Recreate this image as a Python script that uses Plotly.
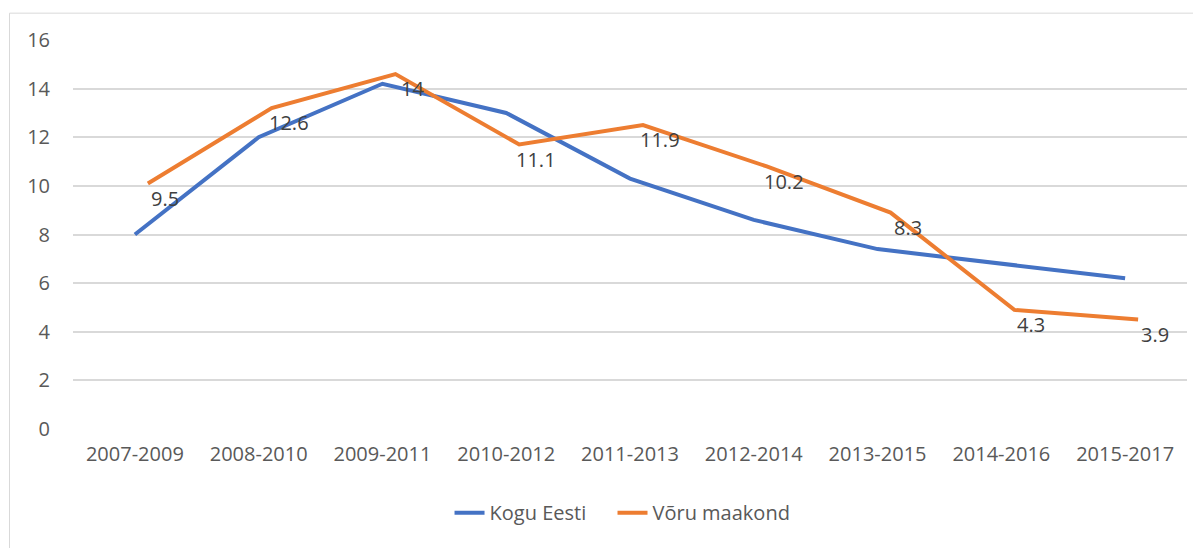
import plotly.graph_objects as go

categories = ["2007-2009", "2008-2010", "2009-2011", "2010-2012", "2011-2013",
              "2012-2014", "2013-2015", "2014-2016", "2015-2017"]
kogu_eesti = [8.0, 12.0, 14.2, 13.0, 10.3, 8.6, 7.4, 6.8, 6.2]
voru_maakond = [9.5, 12.6, 14.0, 11.1, 11.9, 10.2, 8.3, 4.3, 3.9]
y_ticks = [0, 2, 4, 6, 8, 10, 12, 14, 16]

idx = list(range(len(categories)))
FONT = "Open Sans"
GRAY = "#595959"

fig = go.Figure()
fig.add_trace(go.Scatter(x=idx, y=kogu_eesti, mode="lines", name="Kogu Eesti",
                         line=dict(color="#4472C4", width=4), xaxis="x", yaxis="y",
                         legend="legend"))
fig.add_trace(go.Scatter(x=idx, y=voru_maakond, mode="lines", name="Võru maakond",
                         line=dict(color="#ED7D31", width=4), xaxis="x2", yaxis="y2",
                         legend="legend2"))

annotations = []
for i, v in zip(idx, voru_maakond):
    annotations.append(dict(x=i, y=v, xref="x", yref="y", text=f"{v:g}", showarrow=False,
                            xshift=30, font=dict(family=FONT, size=20, color="#404040")))

legend_style = dict(orientation="h", xanchor="left", y=-0.215, yanchor="middle",
                    font=dict(family=FONT, size=20, color=GRAY), itemwidth=30,
                    bgcolor="rgba(0,0,0,0)")

fig.update_layout(
    width=1201, height=548,
    margin=dict(l=65, r=22, t=32, b=127),
    paper_bgcolor="white", plot_bgcolor="white",
    font=dict(family=FONT, size=20, color=GRAY),
    xaxis=dict(range=[-0.5, 8.5], tickvals=idx, ticktext=categories, showgrid=False,
               zeroline=False, showline=False, ticks="", ticklabelstandoff=11,
               tickfont=dict(family=FONT, size=20, color=GRAY)),
    yaxis=dict(range=[0, 16], tickvals=y_ticks, showgrid=True, gridcolor="#D9D9D9",
               gridwidth=1.5, zeroline=False, showline=False, ticks="", ticklabelstandoff=22,
               tickfont=dict(family=FONT, size=20, color=GRAY)),
    xaxis2=dict(range=[-0.605, 8.395], overlaying="x", visible=False),
    yaxis2=dict(range=[-0.6, 15.4], overlaying="y", visible=False),
    showlegend=True,
    legend=dict(x=0.338, **legend_style),
    legend2=dict(x=0.4843, **legend_style),
    annotations=annotations,
    shapes=[dict(type="rect", xref="paper", yref="paper", x0=-0.057, x1=1.2, y0=-0.5, y1=1.069,
                 line=dict(color="#D9D9D9", width=1), fillcolor="rgba(0,0,0,0)", layer="below")],
)

fig.write_html("out.html")
